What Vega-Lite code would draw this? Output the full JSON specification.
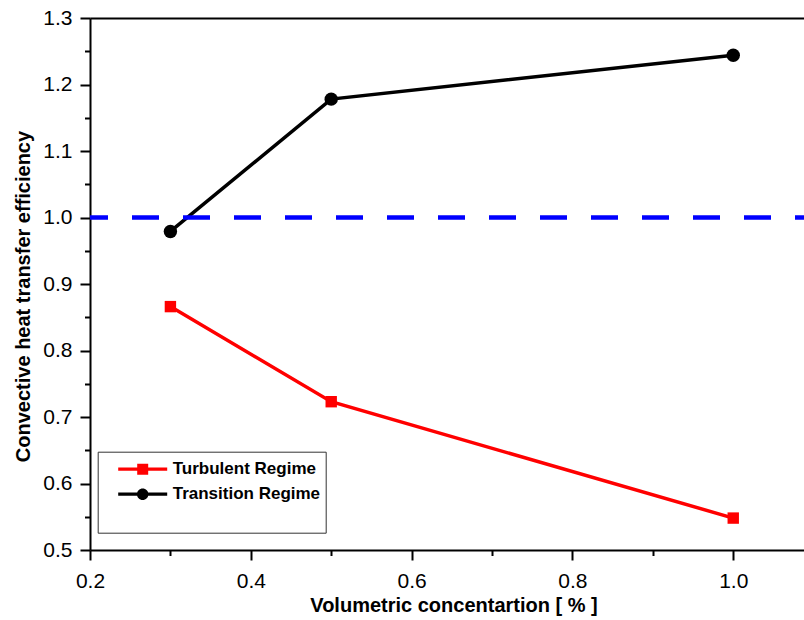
{
  "$schema": "https://vega.github.io/schema/vega-lite/v6.json",
  "width": 714,
  "height": 532,
  "autosize": {"type": "none"},
  "padding": {"left": 90, "top": 18, "right": 0, "bottom": 70},
  "background": "white",
  "config": {
    "view": {"stroke": null},
    "font": "Liberation Sans"
  },
  "data": {
    "values": [
      {"series": "Turbulent Regime", "conc": 0.3, "eff": 0.866},
      {"series": "Turbulent Regime", "conc": 0.5, "eff": 0.723},
      {"series": "Turbulent Regime", "conc": 1.0, "eff": 0.548},
      {"series": "Transition Regime", "conc": 0.3, "eff": 0.979},
      {"series": "Transition Regime", "conc": 0.5, "eff": 1.178},
      {"series": "Transition Regime", "conc": 1.0, "eff": 1.244}
    ]
  },
  "resolve": {"axis": {"x": "independent", "y": "independent"}},
  "layer": [
    {
      "mark": {"type": "line", "strokeWidth": 3.5},
      "encoding": {
        "x": {
          "field": "conc", "type": "quantitative",
          "scale": {"domain": [0.2, 1.088], "nice": false, "zero": false},
          "axis": {
            "orient": "bottom",
            "values": [0.2, 0.4, 0.6, 0.8, 1.0], "format": ".1f",
            "grid": false, "tickSize": 10, "tickWidth": 2, "tickColor": "black",
            "domainWidth": 2, "domainColor": "black",
            "labelFont": "Liberation Sans", "labelFontSize": 21, "labelColor": "black",
            "labelPadding": 10, "labelFlush": false, "labelOverlap": false,
            "title": "Volumetric concentartion [ % ]",
            "titleFont": "Liberation Sans", "titleFontSize": 20, "titleFontWeight": "bold", "titleColor": "black",
            "titleX": 363.5, "titleY": 55, "titleAlign": "center", "titleBaseline": "middle"
          }
        },
        "y": {
          "field": "eff", "type": "quantitative",
          "scale": {"domain": [0.5, 1.3], "nice": false, "zero": false},
          "axis": {
            "orient": "left",
            "values": [0.5, 0.6, 0.7, 0.8, 0.9, 1.0, 1.1, 1.2, 1.3], "format": ".1f",
            "grid": false, "tickSize": 10, "tickWidth": 2, "tickColor": "black",
            "domainWidth": 2, "domainColor": "black",
            "labelFont": "Liberation Sans", "labelFontSize": 21, "labelColor": "black",
            "labelPadding": 8, "labelFlush": false, "labelOverlap": false,
            "title": "Convective heat transfer efficiency",
            "titleFont": "Liberation Sans", "titleFontSize": 20, "titleFontWeight": "bold", "titleColor": "black",
            "titleAngle": 270, "titleX": -67, "titleY": 278, "titleAlign": "center", "titleBaseline": "middle"
          }
        },
        "color": {
          "field": "series", "type": "nominal",
          "scale": {"domain": ["Turbulent Regime", "Transition Regime"], "range": ["#ff0000", "#000000"]},
          "legend": {
            "orient": "none", "legendX": 7.7, "legendY": 433.7,
            "title": "                                                ",
            "titleOrient": "bottom", "titleFontSize": 17.2, "titlePadding": 3, "titleLimit": 400,
            "padding": 5, "strokeColor": "#333333",
            "symbolSize": 2500, "clipHeight": 25, "symbolOffset": 15, "labelOffset": 5,
            "rowPadding": 0, "symbolStrokeWidth": 0,
            "labelFont": "Liberation Sans", "labelFontSize": 17, "labelFontWeight": "bold", "labelColor": "black",
            "encode": {
              "symbols": {
                "update": {
                  "shape": {"signal": "datum.value === 'Turbulent Regime' ? 'M-0.98,-0.066H0.98V0.066H-0.98Z M-0.22,-0.22H0.22V0.22H-0.22Z' : 'M-0.98,-0.066H0.98V0.066H-0.98Z M0.23,0 A0.23,0.23 0 1,1 -0.23,0 A0.23,0.23 0 1,1 0.23,0 Z'"},
                  "size": {"value": 2500},
                  "fill": {"scale": "color", "field": "value"},
                  "stroke": {"value": "transparent"},
                  "strokeWidth": {"value": 0},
                  "opacity": {"value": 1}
                }
              }
            }
          }
        }
      }
    },
    {
      "transform": [{"filter": "datum.series === 'Turbulent Regime'"}],
      "mark": {"type": "point", "shape": "square", "size": 130, "filled": true, "opacity": 1},
      "encoding": {
        "x": {
          "field": "conc", "type": "quantitative",
          "scale": {"domain": [0.2, 1.088], "nice": false, "zero": false},
          "axis": {
            "orient": "bottom", "values": [0.3, 0.5, 0.7, 0.9],
            "grid": false, "labels": false, "domain": false,
            "tickSize": 5.5, "tickWidth": 2, "tickColor": "black", "title": null
          }
        },
        "y": {
          "field": "eff", "type": "quantitative",
          "scale": {"domain": [0.5, 1.3], "nice": false, "zero": false},
          "axis": {
            "orient": "left", "values": [0.55, 0.65, 0.75, 0.85, 0.95, 1.05, 1.15, 1.25],
            "grid": false, "labels": false, "domain": false,
            "tickSize": 5.5, "tickWidth": 2, "tickColor": "black", "title": null
          }
        },
        "color": {
          "field": "series", "type": "nominal",
          "scale": {"domain": ["Turbulent Regime", "Transition Regime"], "range": ["#ff0000", "#000000"]},
          "legend": null
        }
      }
    },
    {
      "transform": [{"filter": "datum.series === 'Transition Regime'"}],
      "mark": {"type": "point", "shape": "circle", "size": 180, "filled": true, "opacity": 1},
      "encoding": {
        "x": {
          "field": "conc", "type": "quantitative",
          "scale": {"domain": [0.2, 1.088], "nice": false, "zero": false},
          "axis": null
        },
        "y": {
          "field": "eff", "type": "quantitative",
          "scale": {"domain": [0.5, 1.3], "nice": false, "zero": false},
          "axis": null
        },
        "color": {
          "field": "series", "type": "nominal",
          "scale": {"domain": ["Turbulent Regime", "Transition Regime"], "range": ["#ff0000", "#000000"]},
          "legend": null
        }
      }
    },
    {
      "data": {"values": [{"ref": 1.0, "x0": 0.2, "x1": 1.088}]},
      "mark": {"type": "rule", "color": "#0000ff", "strokeWidth": 4.5, "strokeDash": [27, 24], "strokeDashOffset": 9},
      "encoding": {
        "x": {
          "field": "x0", "type": "quantitative",
          "scale": {"domain": [0.2, 1.088], "nice": false, "zero": false},
          "axis": {
            "orient": "top", "ticks": false, "labels": false, "grid": false,
            "domain": true, "domainWidth": 2, "domainColor": "black", "title": null
          }
        },
        "x2": {"field": "x1"},
        "y": {
          "field": "ref", "type": "quantitative",
          "scale": {"domain": [0.5, 1.3], "nice": false, "zero": false},
          "axis": null
        }
      }
    }
  ]
}
